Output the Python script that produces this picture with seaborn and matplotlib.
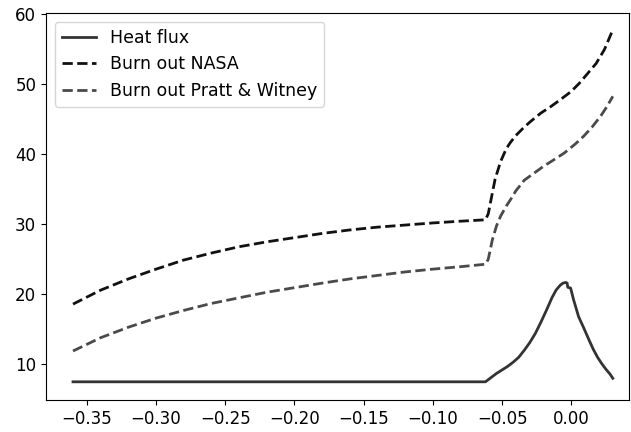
import matplotlib
matplotlib.use("Agg")
import matplotlib.pyplot as plt
import seaborn as sns

# ==========================================================
# DATA
# ==========================================================
heat_x = [-0.360, -0.062, -0.058, -0.054, -0.050, -0.046, -0.042, -0.038,
          -0.034, -0.030, -0.026, -0.022, -0.018, -0.014, -0.011, -0.008,
          -0.006, -0.004, -0.003, -0.0025, -0.0005, 0.0017, 0.0053, 0.009,
          0.013, 0.016, 0.019, 0.022, 0.025, 0.028, 0.030]
heat_y = [7.5, 7.5, 8.1, 8.7, 9.2, 9.7, 10.3, 11.0,
          12.0, 13.1, 14.4, 16.0, 17.7, 19.5, 20.6, 21.3,
          21.6, 21.7, 21.6, 21.0, 20.9, 19.2, 16.8, 15.2,
          13.4, 12.1, 11.0, 10.1, 9.3, 8.6, 8.0]

nasa_x = [-0.360, -0.340, -0.320, -0.300, -0.280, -0.260, -0.240, -0.220,
          -0.200, -0.180, -0.160, -0.140, -0.120, -0.100, -0.080, -0.062,
          -0.060, -0.058, -0.055, -0.051, -0.047, -0.044, -0.040, -0.035,
          -0.030, -0.022, -0.015, -0.008, 0.000, 0.006, 0.012, 0.018, 0.024, 0.030]
nasa_y = [18.6, 20.6, 22.2, 23.6, 24.9, 25.9, 26.8, 27.5,
          28.1, 28.7, 29.2, 29.6, 29.9, 30.2, 30.45, 30.65,
          31.5, 33.5, 36.5, 39.0, 40.8, 41.7, 42.7, 43.7,
          44.6, 45.9, 46.8, 47.8, 49.0, 50.2, 51.6, 53.0, 55.0, 57.8]

pw_x = [-0.360, -0.340, -0.320, -0.300, -0.280, -0.260, -0.240, -0.220,
        -0.200, -0.180, -0.160, -0.140, -0.120, -0.100, -0.080, -0.062,
        -0.060, -0.057, -0.054, -0.051, -0.047, -0.044, -0.040, -0.034,
        -0.027, -0.020, -0.012, -0.005, 0.003, 0.009, 0.015, 0.021, 0.026, 0.030]
pw_y = [11.9, 13.8, 15.3, 16.6, 17.7, 18.7, 19.5, 20.3,
        20.95, 21.6, 22.2, 22.7, 23.2, 23.6, 23.95, 24.3,
        25.0, 27.8, 29.8, 31.2, 32.6, 33.5, 34.8, 36.3,
        37.3, 38.3, 39.3, 40.2, 41.5, 42.6, 43.9, 45.4, 46.9, 48.3]

# ==========================================================
# PLOT
# ==========================================================
plt.rcParams["font.size"] = 12

fig = plt.figure(figsize=(6.31, 4.32), dpi=100)
ax = fig.add_axes([46 / 631, 32 / 432, 583 / 631, 387 / 432])

sns.lineplot(x=heat_x, y=heat_y, ax=ax, label="Heat flux",
             color="#333333", linestyle="-", linewidth=2)
sns.lineplot(x=nasa_x, y=nasa_y, ax=ax, label="Burn out NASA",
             color="#111111", linestyle="--", linewidth=2)
sns.lineplot(x=pw_x, y=pw_y, ax=ax, label="Burn out Pratt & Witney",
             color="#4a4a4a", linestyle="--", linewidth=2)

ax.set_xlim(-0.3795, 0.0417)
ax.set_ylim(4.9, 60.2)
ax.set_xticks([-0.35, -0.30, -0.25, -0.20, -0.15, -0.10, -0.05, 0.00])
ax.set_yticks([10, 20, 30, 40, 50, 60])
ax.legend(loc="upper left", fontsize=12.5)

fig.savefig("out.png", dpi=100)
